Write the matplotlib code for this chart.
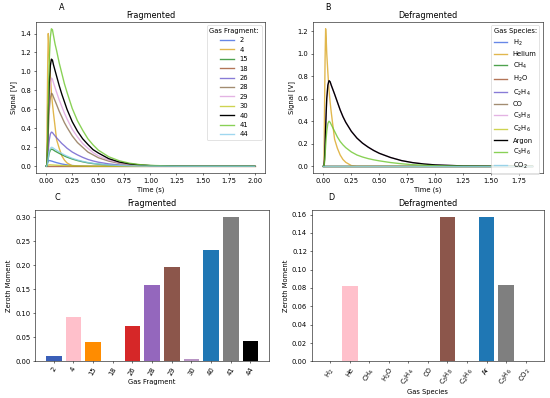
import matplotlib
matplotlib.use("Agg")
import matplotlib.pyplot as plt

# ---- time traces, fragmented (panel A) ----
t_frag = [0, 0.005, 0.01, 0.015, 0.02, 0.025, 0.03, 0.04, 0.05, 0.06, 0.07, 0.085,
          0.1, 0.125, 0.15, 0.175, 0.2, 0.25, 0.3, 0.35, 0.4, 0.45, 0.5, 0.6,
          0.7, 0.8, 0.9, 1.0, 1.25, 1.5, 1.75, 2.0]

frag_labels = ['2', '4', '15', '18', '26', '28', '29', '30', '40', '41', '44']
sig_2 = [0, 0, 0.03, 0.045, 0.055, 0.059, 0.06, 0.058, 0.055, 0.052, 0.048, 0.043,
         0.038, 0.031, 0.024, 0.019, 0.014, 0.008, 0.004, 0.002, 0.001, 0, 0, 0,
         0, 0, 0, 0, 0, 0, 0, 0]
sig_4 = [0, 0, 0.6, 1.1, 1.40, 1.30, 1.15, 0.95, 0.78, 0.66, 0.56, 0.42,
         0.28, 0.19, 0.11, 0.065, 0.035, 0.005, 0, 0, 0, 0, 0, 0,
         0, 0, 0, 0, 0, 0, 0, 0]
sig_15 = [0, 0, 0.014, 0.045, 0.08, 0.113, 0.14, 0.17, 0.18, 0.178, 0.171, 0.16,
          0.151, 0.136, 0.122, 0.108, 0.096, 0.076, 0.06, 0.047, 0.036, 0.028, 0.022, 0.013,
          0.007, 0.004, 0.002, 0.001, 0, 0, 0, 0]
sig_18 = [0, 0, 0, 0, 0, 0, 0, 0, 0, 0, 0, 0, 0, 0, 0, 0,
          0, 0, 0, 0, 0, 0, 0, 0, 0, 0, 0, 0, 0, 0, 0, 0]
sig_26 = [0, 0, 0.03, 0.09, 0.16, 0.23, 0.28, 0.34, 0.36, 0.356, 0.34, 0.32,
          0.30, 0.27, 0.24, 0.216, 0.19, 0.15, 0.12, 0.094, 0.072, 0.056, 0.043, 0.025,
          0.014, 0.008, 0.004, 0.002, 0, 0, 0, 0]
sig_28 = [0, 0, 0.06, 0.19, 0.35, 0.49, 0.60, 0.72, 0.77, 0.76, 0.73, 0.69,
          0.65, 0.58, 0.52, 0.46, 0.41, 0.32, 0.25, 0.20, 0.15, 0.12, 0.09, 0.054,
          0.031, 0.017, 0.009, 0.005, 0.001, 0, 0, 0]
sig_29 = [0, 0, 0.07, 0.23, 0.42, 0.59, 0.73, 0.87, 0.93, 0.92, 0.88, 0.83,
          0.78, 0.70, 0.63, 0.56, 0.50, 0.39, 0.31, 0.24, 0.19, 0.144, 0.11, 0.065,
          0.037, 0.02, 0.011, 0.006, 0.001, 0, 0, 0]
sig_30 = [0, 0, 0.005, 0.009, 0.012, 0.014, 0.015, 0.015, 0.014, 0.0135, 0.013, 0.012,
          0.011, 0.0095, 0.008, 0.007, 0.006, 0.004, 0.003, 0.002, 0.001, 0, 0, 0,
          0, 0, 0, 0, 0, 0, 0, 0]
sig_40 = [0, 0, 0.09, 0.28, 0.51, 0.71, 0.88, 1.06, 1.13, 1.12, 1.07, 1.01,
          0.95, 0.85, 0.76, 0.68, 0.60, 0.47, 0.37, 0.29, 0.23, 0.175, 0.14, 0.08,
          0.045, 0.025, 0.014, 0.007, 0.001, 0, 0, 0]
sig_41 = [0, 0, 0.12, 0.36, 0.65, 0.91, 1.13, 1.36, 1.45, 1.44, 1.38, 1.29,
          1.22, 1.09, 0.98, 0.87, 0.78, 0.61, 0.48, 0.38, 0.29, 0.225, 0.17, 0.10,
          0.058, 0.032, 0.017, 0.009, 0.001, 0, 0, 0]
sig_44 = [0, 0, 0.016, 0.05, 0.09, 0.126, 0.156, 0.188, 0.20, 0.198, 0.19, 0.178,
          0.168, 0.151, 0.135, 0.12, 0.107, 0.084, 0.066, 0.052, 0.04, 0.031, 0.024, 0.014,
          0.008, 0.004, 0.002, 0.001, 0, 0, 0, 0]
frag_signals = [sig_2, sig_4, sig_15, sig_18, sig_26, sig_28, sig_29, sig_30,
                sig_40, sig_41, sig_44]

# ---- time traces, defragmented (panel B) ----
t_defrag = [0, 0.005, 0.01, 0.015, 0.02, 0.025, 0.03, 0.04, 0.05, 0.06, 0.07, 0.085,
            0.1, 0.125, 0.15, 0.175, 0.2, 0.25, 0.3, 0.35, 0.4, 0.45, 0.5, 0.6,
            0.7, 0.8, 0.9, 1.0, 1.25, 1.5, 1.75, 1.87]

defrag_labels = [r'H$_2$', 'Helium', r'CH$_4$', r'H$_2$O', r'C$_2$H$_4$', 'CO',
                 r'C$_3$H$_8$', r'C$_2$H$_6$', 'Argon', r'C$_3$H$_6$', r'CO$_2$']
zero_d = [0, 0, 0, 0, 0, 0, 0, 0, 0, 0, 0, 0, 0, 0, 0, 0,
          0, 0, 0, 0, 0, 0, 0, 0, 0, 0, 0, 0, 0, 0, 0, 0]
sig_he = [0, 0, 0.5, 0.95, 1.22, 1.13, 1.0, 0.83, 0.68, 0.57, 0.48, 0.36,
          0.24, 0.16, 0.10, 0.06, 0.035, 0.006, 0, 0, 0, 0, 0, 0,
          0, 0, 0, 0, 0, 0, 0, 0]
sig_c3h8 = [0, 0, 0.06, 0.19, 0.34, 0.48, 0.60, 0.72, 0.76, 0.75, 0.72, 0.68,
            0.64, 0.57, 0.50, 0.44, 0.39, 0.31, 0.25, 0.205, 0.17, 0.14, 0.115, 0.078,
            0.05, 0.032, 0.02, 0.012, 0.003, 0.001, 0, 0]
sig_ar = [0, 0, 0.06, 0.19, 0.34, 0.48, 0.60, 0.72, 0.76, 0.75, 0.72, 0.68,
          0.64, 0.57, 0.50, 0.44, 0.39, 0.31, 0.25, 0.205, 0.17, 0.14, 0.115, 0.078,
          0.05, 0.032, 0.02, 0.012, 0.003, 0.001, 0, 0]
sig_c3h6 = [0, 0, 0.03, 0.10, 0.18, 0.25, 0.31, 0.38, 0.40, 0.39, 0.37, 0.34,
            0.31, 0.26, 0.22, 0.19, 0.165, 0.127, 0.10, 0.082, 0.068, 0.057, 0.048, 0.033,
            0.022, 0.014, 0.009, 0.005, 0.001, 0, 0, 0]
defrag_signals = [zero_d, sig_he, zero_d, zero_d, zero_d, zero_d, sig_c3h8,
                  zero_d, sig_ar, sig_c3h6, zero_d]

line_colors = ['royalblue', 'goldenrod', 'forestgreen', 'sienna', 'slateblue',
               '#8b6f4e', 'plum', '#c2c826', 'black', '#6cc62c', 'skyblue']

# ---- zeroth moments (panels C, D) ----
frag_moment = [0.012, 0.093, 0.040, 0.0, 0.073, 0.160, 0.197, 0.005, 0.232, 0.300, 0.043]
frag_bar_colors = ['#3a5fb8', 'pink', 'darkorange', 'tab:green', 'tab:red', 'tab:purple',
                   'tab:brown', '#b894c4', 'tab:blue', 'tab:gray', 'black']

species_ticks = [r'H$_2$', 'He', r'CH$_4$', r'H$_2$O', r'C$_2$H$_4$', 'CO',
                 r'C$_3$H$_8$', r'C$_2$H$_6$', 'Ar', r'C$_3$H$_6$', r'CO$_2$']
defrag_moment = [0.0, 0.082, 0.0, 0.0, 0.0, 0.0, 0.157, 0.0, 0.157, 0.083, 0.0]
defrag_bar_colors = ['royalblue', 'pink', 'tab:green', 'tab:red', 'tab:purple', 'tab:olive',
                     'tab:brown', 'tab:cyan', 'tab:blue', 'tab:gray', 'skyblue']

fig = plt.figure(figsize=(550 / 49, 398 / 49), dpi=49)

axA = fig.add_axes([0.065, 0.565, 0.417, 0.38])
for lab, sig, col in zip(frag_labels, frag_signals, line_colors):
    axA.plot(t_frag, sig, color=col, label=lab, lw=2,
             alpha=0.8 if col != 'black' else 1.0)
axA.set_title('Fragmented')
axA.set_xlabel('Time (s)')
axA.set_ylabel('Signal [V]')
axA.legend(title='Gas Fragment:', loc='upper right')

axB = fig.add_axes([0.569, 0.565, 0.418, 0.38])
for lab, sig, col in zip(defrag_labels, defrag_signals, line_colors):
    axB.plot(t_defrag, sig, color=col, label=lab, lw=2,
             alpha=0.8 if col != 'black' else 1.0)
axB.set_title('Defragmented')
axB.set_xlabel('Time (s)')
axB.set_ylabel('Signal [V]')
axB.legend(title='Gas Species:', loc='upper right')

axC = fig.add_axes([0.064, 0.092, 0.425, 0.38])
axC.bar(frag_labels, frag_moment, color=frag_bar_colors)
axC.set_title('Fragmented')
axC.set_xlabel('Gas Fragment')
axC.set_ylabel('Zeroth Moment')
axC.tick_params(axis='x', labelrotation=60)

axD = fig.add_axes([0.567, 0.092, 0.422, 0.38])
axD.bar(species_ticks, defrag_moment, color=defrag_bar_colors)
axD.set_title('Defragmented')
axD.set_xlabel('Gas Species')
axD.set_ylabel('Zeroth Moment')
axD.tick_params(axis='x', labelrotation=60)

fig.text(0.112, 0.982, 'A', fontsize=12, ha='center', va='center')
fig.text(0.596, 0.982, 'B', fontsize=12, ha='center', va='center')
fig.text(0.104, 0.505, 'C', fontsize=12, ha='center', va='center')
fig.text(0.602, 0.505, 'D', fontsize=12, ha='center', va='center')

fig.savefig('out.png', dpi=49)
